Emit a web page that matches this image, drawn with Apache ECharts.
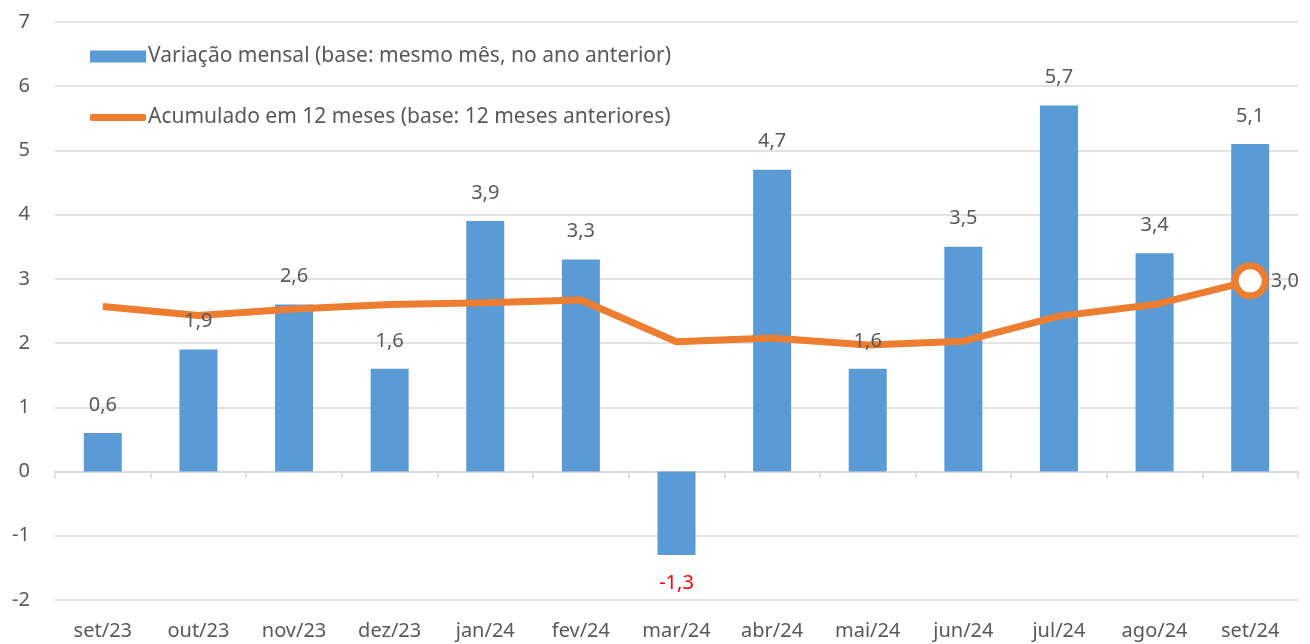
<!DOCTYPE html>
<html>
<head>
<meta charset="utf-8">
<script src="https://cdn.jsdelivr.net/npm/echarts@6/dist/echarts.min.js"></script>
<style>
  html, body { margin: 0; padding: 0; background: #fff; }
  #chart { width: 1310px; height: 644px; }
</style>
</head>
<body>
<div id="chart"></div>
<script>
const months = ['set/23', 'out/23', 'nov/23', 'dez/23', 'jan/24', 'fev/24', 'mar/24',
  'abr/24', 'mai/24', 'jun/24', 'jul/24', 'ago/24', 'set/24']
const monthly = [0.6, 1.9, 2.6, 1.6, 3.9, 3.3, -1.3, 4.7, 1.6, 3.5, 5.7, 3.4, 5.1]
const accum12 = [2.57, 2.43, 2.53, 2.6, 2.63, 2.67, 2.02, 2.08, 1.97, 2.03, 2.42, 2.6, 2.97]

const nameBar = 'Variação mensal (base: mesmo mês, no ano anterior)'
const nameLine = 'Acumulado em 12 meses (base: 12 meses anteriores)'

const gray = '#595959'
const font = 'Noto Sans'
const fmt = v => v.toFixed(1).replace('.', ',')

const chart = echarts.init(document.getElementById('chart'))

const legendBase = {
  orient: 'vertical',
  left: 85,
  itemWidth: 56,
  textStyle: { color: gray, fontSize: 21, fontFamily: font, padding: [0, 0, 0, -3] }
}

chart.setOption({
  animation: false,
  textStyle: { fontFamily: font },
  grid: { left: 55, right: 12, top: 22, bottom: 44 },
  legend: [
    Object.assign({}, legendBase, {
      top: 41,
      itemHeight: 12,
      data: [{ name: nameBar, icon: 'rect' }]
    }),
    Object.assign({}, legendBase, {
      top: 102,
      itemHeight: 7,
      data: [{ name: nameLine, icon: 'roundRect', itemStyle: { color: '#ED7D31', borderWidth: 0 } }]
    })
  ],
  xAxis: [
    {
      type: 'category',
      data: months,
      position: 'bottom',
      axisLine: { onZero: false, show: false },
      axisTick: { show: false },
      axisLabel: { color: gray, fontSize: 20, margin: 21 }
    },
    {
      type: 'category',
      data: months,
      position: 'bottom',
      axisLine: { onZero: true, lineStyle: { color: '#d9d9d9', width: 1.5 } },
      axisTick: { show: true, length: 7, lineStyle: { color: '#d9d9d9', width: 1.5 } },
      axisLabel: { show: false }
    }
  ],
  yAxis: {
    type: 'value',
    min: -2,
    max: 7,
    interval: 1,
    axisLine: { show: false },
    axisTick: { show: false },
    axisLabel: { color: gray, fontSize: 20, margin: 25 },
    splitLine: { lineStyle: { color: '#d9d9d9', width: 1.5 } }
  },
  series: [
    {
      name: nameBar,
      type: 'bar',
      xAxisIndex: 0,
      data: monthly,
      barWidth: 38,
      itemStyle: { color: '#5B9BD5' },
      z: 2
    },
    {
      name: nameLine,
      type: 'line',
      xAxisIndex: 0,
      data: accum12.map((v, i) => i === accum12.length - 1
        ? {
            value: v,
            symbol: 'circle',
            symbolSize: 30,
            itemStyle: { color: '#fff', borderColor: '#ED7D31', borderWidth: 7 },
            label: { show: true, position: 'right', distance: 2, color: gray, fontSize: 20,
              formatter: p => fmt(p.value) }
          }
        : { value: v }),
      symbol: 'none',
      lineStyle: { color: '#ED7D31', width: 7 },
      itemStyle: { color: '#ED7D31' },
      z: 3
    },
    {
      // bar value labels, drawn above the line
      name: 'labels',
      type: 'bar',
      xAxisIndex: 0,
      barGap: '-100%',
      barWidth: 38,
      data: monthly.map(v => ({
        value: v,
        label: v < 0 ? { position: 'bottom', color: '#ff0000' } : {}
      })),
      itemStyle: { color: 'rgba(0,0,0,0)' },
      label: {
        show: true,
        position: 'top',
        distance: 18,
        color: gray,
        fontSize: 20,
        formatter: p => fmt(p.value)
      },
      z: 5,
      silent: true
    }
  ]
})
</script>
</body>
</html>
